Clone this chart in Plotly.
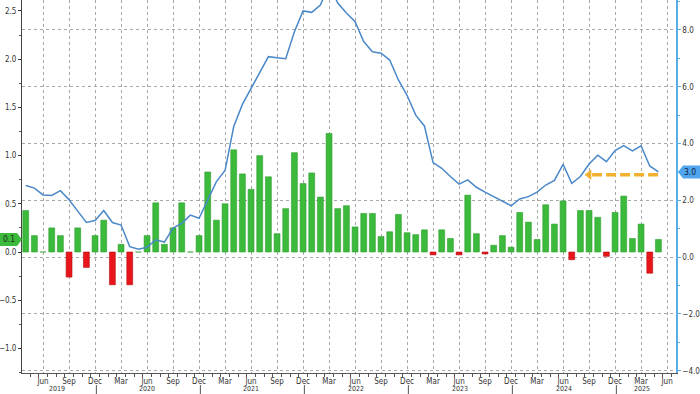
import plotly.graph_objects as go
import pandas as pd

# ---------------- data ----------------
months = pd.date_range("2019-04-01", periods=74, freq="MS")
axis_months = pd.date_range("2019-04-01", "2025-06-01", freq="MS")

mom = [
    0.43, 0.17, 0.00, 0.25, 0.17, -0.26, 0.25, -0.16, 0.17,                # 2019 Apr-Dec
    0.33, -0.34, 0.08, -0.34, 0.00, 0.17, 0.51, 0.08, 0.25, 0.51, 0.00, 0.17,  # 2020
    0.83, 0.33, 0.50, 1.06, 0.81, 0.65, 1.00, 0.78, 0.19, 0.45, 1.03, 0.71,  # 2021
    0.82, 0.57, 1.23, 0.45, 0.48, 0.26, 0.40, 0.40, 0.16, 0.21, 0.39, 0.20,  # 2022
    0.18, 0.23, -0.03, 0.23, 0.14, -0.03, 0.59, 0.19, -0.02, 0.07, 0.17, 0.05,  # 2023
    0.41, 0.31, 0.13, 0.49, 0.29, 0.53, -0.08, 0.43, 0.43, 0.36, -0.045, 0.41,  # 2024
    0.58, 0.14, 0.29, -0.22, 0.13,                                           # 2025 Jan-May
]

yoy = [
    2.52, 2.43, 2.19, 2.17, 2.34, 2.02, 1.62, 1.22, 1.29,
    1.64, 1.22, 1.13, 0.37, 0.28, 0.35, 0.61, 0.53, 1.02, 1.19, 1.48, 1.37,
    2.02, 2.66, 3.05, 4.60, 5.38, 5.93, 6.48, 7.06, 7.02, 6.99, 7.94, 8.67,
    8.62, 8.88, 9.60, 8.95, 8.60, 8.29, 7.59, 7.23, 7.18, 6.94, 6.24, 5.70,
    5.00, 4.62, 3.33, 3.13, 2.84, 2.57, 2.72, 2.46, 2.29, 2.13, 1.96, 1.81,
    2.05, 2.13, 2.29, 2.54, 2.70, 3.27, 2.60, 2.84, 3.28, 3.59, 3.36, 3.75,
    3.93, 3.74, 3.92, 3.21, 3.00,
]

arrow_level = 2.9
arrow_start = "2024-09-01"

# ---------------- style / layout constants ----------------
W, H = 700, 394
ML, MR, MT, MB = 22, 24, 0, 21
PW, PH = W - ML - MR, H - MT - MB
X_RANGE = [-0.43, 75.03]
Y_RANGE = [-1.255, 2.614]
Y2_RANGE = [-4.08, 9.055]

GREEN = "#3cba3c"
GREEN_EDGE = "#2e9e2e"
RED = "#e8161b"
RED_EDGE = "#b80f12"
BLUE_LINE = "#4a88c9"
AX_BLUE = "#5aaee8"
LABEL_BLUE = "#4ea6ee"
ORANGE = "#f0b22e"
GRID = "#a8a8a8"
TXT = "#333333"
FONT = "DejaVu Sans Condensed, Liberation Sans, Arial, sans-serif"
FS = 8.5
FS_X = 8
FS_Y = 8
FS_YEAR = 7

xi = list(range(len(months)))
colors = [GREEN if v >= 0 else RED for v in mom]
edges = [GREEN_EDGE if v >= 0 else RED_EDGE for v in mom]

fig = go.Figure()
fig.add_bar(x=xi, y=mom, width=0.68,
            marker=dict(color=colors, line=dict(color=edges, width=0.6)),
            yaxis="y", showlegend=False)
fig.add_scatter(x=xi, y=yoy, mode="lines", line=dict(color=BLUE_LINE, width=1.5),
                yaxis="y2", showlegend=False)

a0 = list(months).index(pd.Timestamp(arrow_start))
fig.add_scatter(x=[a0 + 0.35, xi[-1]], y=[arrow_level, arrow_level], mode="lines",
                line=dict(color=ORANGE, width=3.5, dash="10px,4px"),
                yaxis="y2", showlegend=False)
fig.add_scatter(x=[a0], y=[arrow_level], mode="markers",
                marker=dict(symbol="triangle-left", size=9, color=ORANGE),
                yaxis="y2", showlegend=False)

# x ticks: Jun/Sep/Dec/Mar
tick_idx = [i for i, m in enumerate(axis_months) if m.month in (3, 6, 9, 12)]
tick_txt = [axis_months[i].strftime("%b") for i in tick_idx]


def px_x(i):
    return (i - X_RANGE[0]) / (X_RANGE[1] - X_RANGE[0])


def py(v, rng):
    return (v - rng[0]) / (rng[1] - rng[0])


annotations = []
shapes = []

# year labels centred on visible part of each year
years = sorted(set(m.year for m in axis_months))
for y in years:
    idx = [i for i, m in enumerate(axis_months) if m.year == y]
    lo = max(idx[0] - 0.5, X_RANGE[0])
    hi = min(idx[-1] + 0.5, X_RANGE[1])
    c = (lo + hi) / 2 - 0.45
    annotations.append(dict(xref="paper", yref="paper", x=px_x(c), y=-11 / PH,
                            xanchor="center", yanchor="top", text=str(y),
                            showarrow=False, borderpad=0,
                            font=dict(family=FONT, size=FS_YEAR, color=TXT)))
    if idx[-1] < len(axis_months) - 1 and axis_months[idx[-1]].month == 12:
        xs = px_x(idx[-1] + 0.15)
        shapes.append(dict(type="line", xref="paper", yref="paper", x0=xs, x1=xs,
                           y0=-12 / PH, y1=-25 / PH, line=dict(color="#555", width=1)))

# left value label (last bar)
lv = mom[-1]
yc = py(lv, Y_RANGE)
hh = 6.5 / PH
x_left = -ML / PW
x_rect = -5 / PW
shapes.append(dict(type="path", xref="paper", yref="paper",
                   path=f"M {x_left},{yc - hh} L {x_rect},{yc - hh} L 0,{yc} L {x_rect},{yc + hh} L {x_left},{yc + hh} Z",
                   fillcolor=GREEN, line=dict(width=0)))
annotations.append(dict(xref="paper", yref="y", x=-13.5 / PW, y=lv, xanchor="center", yanchor="middle",
                        text=f"{lv:.1f}", showarrow=False, font=dict(family=FONT, size=FS, color="#1a2a1a")))

# right value label (last line point)
rv = yoy[-1]
yc2 = py(rv, Y2_RANGE)
x_right = 1 + MR / PW
x_tip = 1 + 2 / PW
x_r0 = 1 + 7 / PW
shapes.append(dict(type="path", xref="paper", yref="paper",
                   path=f"M {x_right},{yc2 - hh} L {x_r0},{yc2 - hh} L {x_tip},{yc2} L {x_r0},{yc2 + hh} L {x_right},{yc2 + hh} Z",
                   fillcolor=LABEL_BLUE, line=dict(width=0)))
annotations.append(dict(xref="paper", yref="y2", x=1 + 14 / PW, y=rv, xanchor="center", yanchor="middle",
                        text=f"{rv:.1f}", showarrow=False, font=dict(family=FONT, size=FS, color="#10203a")))

fig.update_layout(
    template="none",
    width=W, height=H,
    margin=dict(l=ML, r=MR, t=MT, b=MB, pad=0),
    paper_bgcolor="white", plot_bgcolor="white",
    font=dict(family=FONT, size=FS, color=TXT),
    bargap=0.3,
    showlegend=False,
    annotations=annotations,
    shapes=shapes,
    xaxis=dict(range=X_RANGE, tickmode="array", tickvals=tick_idx, ticktext=tick_txt,
               showgrid=True, gridcolor=GRID, griddash="dot", gridwidth=1,
               showline=True, linecolor="#555", linewidth=1, zeroline=False,
               ticks="outside", ticklen=0, tickfont=dict(family=FONT, size=FS_X, color=TXT),
               minor=dict(tickmode="array", tickvals=[i - 0.5 for i in range(len(axis_months) + 1)],
                          ticks="outside", ticklen=3, tickcolor="#555", showgrid=False),
               automargin=False, fixedrange=True),
    yaxis=dict(range=Y_RANGE, tickmode="array", tickvals=[-1.0, -0.5, 0.0, 0.5, 1.0, 1.5, 2.0, 2.5],
               tickformat=".1f", showgrid=False, zeroline=False,
               showline=True, linecolor="#444", linewidth=1,
               ticks="outside", ticklen=3, tickcolor="#333",
               minor=dict(dtick=0.25, tick0=0, ticks="outside", ticklen=2, tickcolor="#555", showgrid=False),
               tickfont=dict(family=FONT, size=FS_Y, color=TXT), automargin=False),
    yaxis2=dict(range=Y2_RANGE, overlaying="y", side="right", anchor="x",
                tickmode="linear", tick0=0, dtick=2, tickformat=".1f",
                showgrid=True, gridcolor=GRID, griddash="dot", gridwidth=1, zeroline=False,
                showline=True, linecolor=AX_BLUE, linewidth=1.5,
                ticks="outside", ticklen=3, tickcolor=AX_BLUE,
                minor=dict(dtick=1, tick0=0, ticks="outside", ticklen=2, tickcolor=AX_BLUE, showgrid=False),
                tickfont=dict(family=FONT, size=FS_Y, color=TXT), automargin=False),
)

fig.write_html("out.html", config={"displayModeBar": False},
               post_script="document.body.style.margin='0';document.body.style.overflow='hidden';")
